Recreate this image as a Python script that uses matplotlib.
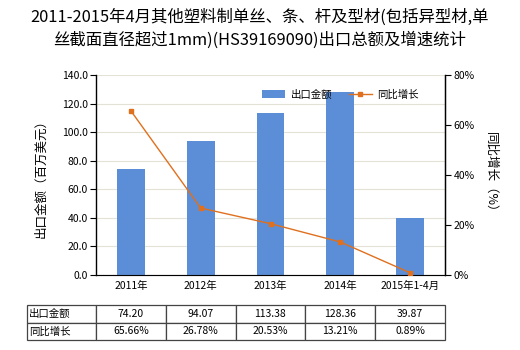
import matplotlib.pyplot as plt
import numpy as np

plt.rcParams['font.family'] = ['Noto Sans CJK SC', 'DejaVu Sans']

years = ['2011年', '2012年', '2013年', '2014年', '2015年1-4月']
export_value = [74.20, 94.07, 113.38, 128.36, 39.87]
growth_pct = [65.66, 26.78, 20.53, 13.21, 0.89]

bar_color = '#5B8ED6'
line_color = '#E0701E'

fig = plt.figure(figsize=(5.2, 3.5), dpi=100)
ax = fig.add_axes([96 / 520, 75 / 350, 349 / 520, 200 / 350])
ax2 = ax.twinx()

x = np.arange(len(years))
ax.bar(x, export_value, width=0.4, color=bar_color, label='出口金额', zorder=2)
ax2.plot(x, growth_pct, color=line_color, lw=1, marker='s', ms=3.5,
         label='同比增长', zorder=3)

ax.set_xlim(-0.5, len(years) - 0.5)
ax.set_ylim(0, 140)
ax.set_yticks(np.arange(0, 141, 20))
ax.set_yticklabels([f'{v:.1f}' for v in np.arange(0, 141, 20)])
ax2.set_ylim(0, 80)
ax2.set_yticks(np.arange(0, 81, 20))
ax2.set_yticklabels([f'{v}%' for v in range(0, 81, 20)])
ax.set_xticks(x)
ax.set_xticklabels(years)

ax.grid(axis='y', color='#E4E2D6', lw=0.8, zorder=0)
ax.set_axisbelow(True)
for a in (ax, ax2):
    a.spines['top'].set_visible(False)
    a.tick_params(labelsize=7.5, length=4, width=0.8, pad=2)
ax.tick_params(axis='x', length=0, pad=4)
ax.spines['left'].set_linewidth(1)
ax2.spines['right'].set_linewidth(1)
ax2.spines['left'].set_visible(False)
ax.spines['bottom'].set_color('#888888')

ax.set_ylabel('出口金额（百万美元）', fontsize=9, labelpad=10)
ax2.set_ylabel('同比增长（%）', fontsize=9, rotation=270, labelpad=16)

fig.suptitle('2011-2015年4月其他塑料制单丝、条、杆及型材(包括异型材,单\n丝截面直径超过1mm)(HS39169090)出口总额及增速统计',
             fontsize=11.8, y=0.975, linespacing=1.4)

h1, l1 = ax.get_legend_handles_labels()
h2, l2 = ax2.get_legend_handles_labels()
ax2.legend(h1 + h2, l1 + l2, loc='upper left', bbox_to_anchor=(0.45, 0.975),
           ncol=2, frameon=False, fontsize=7.5, handlelength=2.2,
           columnspacing=1.6, handletextpad=0.5)

# data table under the chart
cells = [['出口金额'] + [f'{v:.2f}' for v in export_value],
         ['同比增长'] + [f'{v:.2f}%' for v in growth_pct]]
tbl = ax.table(cellText=cells, cellLoc='center',
               bbox=[-69 / 349, -65 / 200, 418 / 349, 35 / 200],
               colWidths=[69] + [70] * 5)
tbl.auto_set_font_size(False)
tbl.set_fontsize(7.5)
for (r, c), cell in tbl.get_celld().items():
    cell.set_edgecolor('#444444')
    cell.set_linewidth(0.9)
    if c == 0:
        cell.set_text_props(ha='left')
        cell.PAD = 0.03

fig.savefig('out.png', dpi=100)
